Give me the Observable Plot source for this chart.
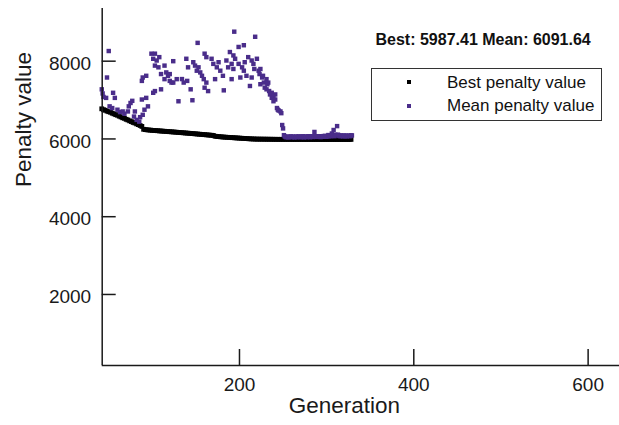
<!DOCTYPE html>
<html>
<head>
<meta charset="utf-8">
<script src="https://cdn.jsdelivr.net/npm/d3@7"></script>
<script src="https://cdn.jsdelivr.net/npm/@observablehq/plot@0.6"></script>
<style>
html, body { margin: 0; padding: 0; background: #fff; }
#wrap { position: relative; width: 619px; height: 425px; font-family: "Liberation Sans", Arial, sans-serif; color: #111; }
#stats { position: absolute; left: 375.5px; top: 31.5px; font-size: 16px; line-height: 16px; font-weight: bold; white-space: nowrap; }
#legend { position: absolute; left: 371px; top: 67.5px; width: 231px; height: 53px; box-sizing: border-box; border: 1px solid #333; background: #fff; }
.lg-row { position: absolute; left: 75px; font-size: 17px; line-height: 17px; white-space: nowrap; }
.lg-sw { position: absolute; left: 35px; width: 4px; height: 4px; }
</style>
</head>
<body>
<div id="wrap">
  <div id="chart"></div>
  <div id="stats"></div>
  <div id="legend">
    <div class="lg-sw" id="sw0" style="top:11.5px;"></div>
    <div class="lg-row" id="lg0" style="top:5px;"></div>
    <div class="lg-sw" id="sw1" style="top:35px;"></div>
    <div class="lg-row" id="lg1" style="top:28px;"></div>
  </div>
</div>
<script>
const statsText = "Best: 5987.41 Mean: 6091.64";
const seriesNames = ["Best penalty value", "Mean penalty value"];
const seriesColors = ["#000000", "#4a2d8a"];
const xLabel = "Generation";
const yLabel = "Penalty value";
const xTicks = [200, 400, 600];
const yTicks = [2000, 4000, 6000, 8000];
const xDomain = [42.5, 636];
const yDomain = [173, 9355];

const bestGen = [
  42,44,46,48,50,52,54,56,58,60,62,64,66,68,70,72,74,76,78,80,82,84,86,88,
  90,92,94,96,98,100,102,104,106,108,110,112,114,116,118,120,122,124,126,128,130,132,134,136,138,140,142,
  144,146,148,150,152,154,156,158,160,162,164,166,168,170,172,174,176,178,180,182,184,186,188,190,192,194,196,198,200,202,204,206,208,210,212,214,216,218,220,
  222,224,226,228,230,232,234,236,238,240,242,244,246,248,250,252,254,256,258,260,262,264,266,268,270,272,274,276,278,280,
  282,284,286,288,290,292,294,296,298,300,302,304,306,308,310,312,314,316,318,320,322,324,326,328
];
const bestPenalty = [
  6775,6752,6738,6716,6700,6686,6662,6645,6624,6610,6586,6566,6544,6530,6505,6488,6465,6447,6424,6410,6386,6368,6346,6322,
  6248,6240,6234,6230,6226,6221,6218,6214,6211,6207,6204,6200,6197,6193,6190,6186,6183,6179,6176,6172,6168,6165,6161,6157,6153,6150,6146,
  6142,6138,6134,6130,6126,6122,6118,6114,6110,6106,6102,6098,6094,6090,6070,6064,6060,6056,6052,6048,6045,6042,6039,6036,6033,6030,6027,6024,6021,6018,6015,6012,6009,6006,6003,6001,5999,5997,5996,
  5995,5995,5994,5994,5993,5993,5992,5992,5991,5991,5990,5990,5990,5990,5989.8,5989.8,5989.5,5989.5,5989.5,5989.2,5989.2,5989,5989,5989,5988.8,5988.8,5988.8,5988.5,5988.5,5988.5,
  5988.3,5988.3,5988.3,5988.1,5988.1,5988.1,5988,5988,5987.9,5987.9,5987.8,5987.8,5987.8,5987.7,5987.7,5987.6,5987.6,5987.6,5987.5,5987.5,5987.5,5987.45,5987.41,5987.41
];

const meanGen = [
  42,43,44,47,48,50,51,54,55,57,60,63,66,68,72,73,75,77,79,80,82,85,86,88,88,89,89,91,93,93,95,
  99,101,101,103,103,103,105,107,108,110,110,114,114,116,118,120,120,122,124,124,128,130,134,136,139,140,141,
  144,146,147,149,151,152,153,155,157,159,160,160,162,162,164,168,170,172,174,176,178,181,182,
  185,187,189,191,191,193,193,194,195,199,199,201,203,205,205,206,208,210,212,214,214,216,217,218,220,
  222,223,224,224,226,227,228,229,231,231,232,233,234,235,237,237,239,239,241,241,243,244,245,247,248,249,250,251,
  252,253,254,255,256,257,258,259,260,261,262,263,264,265,266,267,268,269,270,271,272,273,274,275,276,277,278,279,280,
  281,282,283,284,285,286,287,288,289,290,291,292,293,294,295,296,297,298,299,300,301,302,303,304,305,306,307,308,309,310,
  311,312,313,314,315,316,317,318,319,320,321,322,323,324,325,326,327,328,329
];
const meanPenalty = [
  7276,7170,7080,7056,7580,8261,6838,6794,7187,7056,6752,6690,6707,6650,6707,6838,6925,6980,6576,6707,6490,6445,6560,7014,7493,6621,7580,6752,7056,7624,6838,
  8193,8062,7187,8193,7231,7886,8017,7842,8104,7276,7669,7886,7538,7711,7624,7493,7668,7450,8000,7449,7538,6969,7540,7450,8062,7493,7842,
  7276,6995,7973,7886,7755,8471,7842,7711,7624,7538,8193,7318,8104,7449,7231,8062,7931,7538,7842,7973,7755,7624,7250,
  8017,7842,8235,7931,7538,8148,7800,8759,8062,8366,7931,7580,7842,8410,7755,7973,7624,8104,7362,8017,7580,7931,7800,8628,8062,
  7755,7669,7407,7799,7581,7624,7450,7319,7538,7276,7406,7449,7232,7145,7187,7057,7100,6970,7014,7145,6795,6752,6730,6708,6663,6358,6271,6097,
  6065,6050,6045,6060,6040,6055,6050,6065,6045,6060,6055,6040,6050,6062,6045,6058,6065,6050,6045,6060,6052,6068,6040,6055,6062,6048,6050,6070,6062,
  6045,6055,6068,6050,6062,6180,6070,6052,6065,6055,6070,6060,6048,6066,6058,6072,6060,6080,6058,6062,6075,6100,6068,6080,6072,6140,6085,6230,6070,6110,
  6095,6330,6110,6085,6070,6092,6075,6080,6068,6090,6072,6085,6065,6080,6078,6085,6070,6092,6091.64
];

const best = bestGen.map((g, i) => ({g, v: bestPenalty[i]}));
const mean = meanGen.map((g, i) => ({g, v: meanPenalty[i]}));

const W = 619, H = 425, mL = 101.7, mR = 0, mT = 8, mB = 60;
const yTickLen = 14, xTickLen = 16;

const font = "'Liberation Sans', Arial, sans-serif";
const ink = "#1a1a1a";
const chart = Plot.plot({
  width: W,
  height: H,
  marginLeft: mL,
  marginRight: mR,
  marginTop: mT,
  marginBottom: mB,
  style: {fontFamily: font, fontSize: "19px", color: ink, background: "#fff", overflow: "visible"},
  x: {domain: xDomain, axis: null},
  y: {domain: yDomain, axis: null},
  marks: [
    Plot.dot(best, {x: "g", y: "v", symbol: "square", r: 2.7, fill: seriesColors[0], stroke: "none"}),
    Plot.dot(mean, {x: "g", y: "v", symbol: "square", r: 2.5, fill: seriesColors[1], stroke: "none"}),
    Plot.ruleX([xDomain[0]], {y1: yDomain[0], y2: yDomain[1], stroke: ink, strokeWidth: 1.5}),
    Plot.ruleY([yDomain[0]], {x1: xDomain[0], x2: xDomain[1], stroke: ink, strokeWidth: 1.5}),
    Plot.axisX({ticks: xTicks, anchor: "bottom", tickSize: xTickLen, dy: -xTickLen, fill: "none", label: null, stroke: ink, strokeWidth: 1.5}),
    Plot.axisY({ticks: yTicks, anchor: "left", tickSize: yTickLen, dx: yTickLen, fill: "none", label: null, stroke: ink, strokeWidth: 1.5}),
    Plot.axisX({ticks: xTicks, anchor: "bottom", tickSize: 0, tickPadding: 11.7, tickFormat: d => String(d), label: null, fontSize: 19, fill: ink}),
    Plot.axisY({ticks: yTicks, anchor: "left", tickSize: 0, tickPadding: 11, dy: 2.7, tickFormat: d => String(d), label: null, fontSize: 19, fill: ink}),
    Plot.text([xLabel], {text: d => d, frameAnchor: "bottom", dx: -16.5, dy: 47.8, fontSize: 22.5, fill: ink}),
    Plot.text([yLabel], {text: d => d, frameAnchor: "left", rotate: -90, dx: -78, fontSize: 22.5, fill: ink})
  ]
});
document.getElementById("chart").appendChild(chart);
document.getElementById("stats").textContent = statsText;
document.getElementById("lg0").textContent = seriesNames[0];
document.getElementById("lg1").textContent = seriesNames[1];
document.getElementById("sw0").style.background = seriesColors[0];
document.getElementById("sw1").style.background = seriesColors[1];
</script>
</body>
</html>
